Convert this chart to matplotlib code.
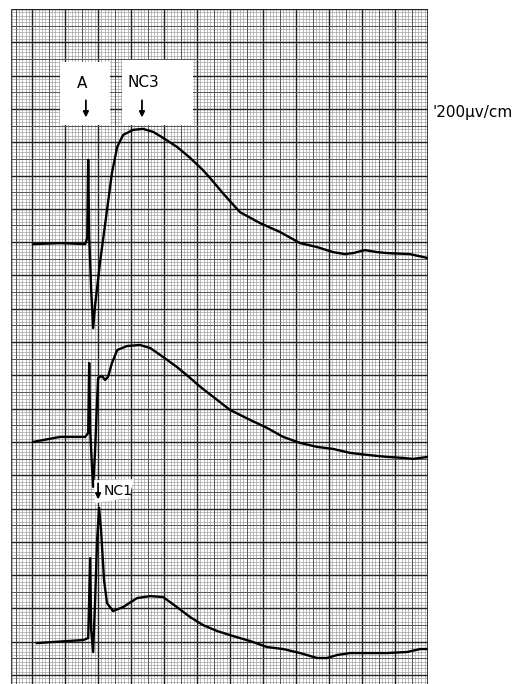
import numpy as np
import matplotlib.pyplot as plt
from matplotlib.patches import Rectangle, Polygon

# chart-paper units: mm (1 small square)
# top trace
x1 = [0.3, 8.5, 16.1, 16.7, 17.0, 17.3, 17.9, 18.5, 19.1, 20.6, 22.7, 24.2, 25.8, 27.6, 30.6,
      33.6, 36.7, 39.7, 43.9, 47.9, 51.8, 53.9, 57.9, 63.0, 69.1, 75.2, 81.2, 86.4, 91.2,
      94.8, 97.3, 100.9, 104.5, 107.6, 114.5, 120.0]
y1 = [129.4, 129.7, 129.4, 131.2, 154.7, 131.8, 115.6, 104.2, 111.1, 124.0, 139.6, 150.8, 158.6,
      162.2, 163.7, 164.0, 163.1, 161.3, 158.6, 155.3, 151.6, 149.3, 144.6, 139.0, 135.7, 133.0,
      129.7, 128.5, 127.0, 126.4, 126.7, 127.6, 127.0, 126.7, 126.4, 125.2]

# middle trace
x2 = [0.3, 8.5, 16.1, 17.0, 17.3, 17.6, 18.2, 18.5, 19.1, 19.7, 20.0, 21.2, 22.1, 23.0, 24.2,
      25.8, 28.8, 32.7, 35.8, 39.7, 43.9, 47.9, 50.9, 54.8, 60.0, 66.1, 71.2, 76.1, 81.2, 86.4,
      91.2, 96.4, 101.5, 107.6, 112.4, 115.5, 120.0]
y2 = [70.0, 71.5, 71.5, 72.7, 93.7, 73.6, 61.6, 56.5, 67.6, 82.6, 89.2, 89.8, 88.6, 89.5, 93.7,
      97.6, 98.8, 99.1, 98.2, 95.5, 92.5, 89.2, 86.6, 83.6, 79.6, 76.6, 74.2, 71.5, 69.7, 68.5,
      67.9, 66.7, 66.1, 65.5, 65.2, 64.9, 65.5]

# bottom trace
x3 = [1.5, 15.5, 17.0, 17.6, 17.9, 18.5, 19.1, 19.7, 20.3, 20.9, 21.8, 22.7, 24.5, 27.6, 31.8,
      35.8, 39.7, 43.9, 47.9, 51.8, 56.1, 60.9, 66.1, 71.2, 76.1, 81.2, 86.4, 89.4, 92.4, 96.4,
      101.5, 107.6, 113.6, 117.6, 120.0]
y3 = [9.6, 10.5, 11.1, 35.1, 13.5, 6.9, 22.5, 40.5, 50.2, 43.5, 28.5, 21.6, 19.2, 20.4, 23.1,
      23.7, 23.4, 20.4, 17.4, 15.0, 13.2, 11.7, 10.2, 8.4, 7.8, 6.6, 5.1, 5.1, 6.0, 6.6,
      6.6, 6.6, 6.9, 7.8, 7.8]

fig = plt.figure(figsize=(5.13, 6.84), dpi=100)
W, H = 513, 684
ax = fig.add_axes([11 / W, 0, (428 - 11) / W, (684 - 9) / H])
ax.set_xlim(-6.4, 120)
ax.set_ylim(-2.7, 200)
ax.axis('off')

# graph paper
for v in np.arange(-6, 121, 1):
    if v % 10 == 0:
        ax.axvline(v, color='#222222', lw=1.0, zorder=1)
    elif v % 5 == 0:
        ax.axvline(v, color='#555555', lw=0.7, zorder=1)
    else:
        ax.axvline(v, color='#9a9a9a', lw=0.45, zorder=0)
for h in np.arange(-2, 201, 1):
    if h % 10 == 0:
        ax.axhline(h, color='#222222', lw=1.0, zorder=1)
    elif h % 5 == 0:
        ax.axhline(h, color='#555555', lw=0.7, zorder=1)
    else:
        ax.axhline(h, color='#9a9a9a', lw=0.45, zorder=0)
ax.axvline(-6.4, color='#444444', lw=0.8)
ax.axvline(120, color='#222222', lw=1.2)

# traces
for xs, ys in [(x1, y1), (x2, y2), (x3, y3)]:
    ax.plot(xs, ys, color='black', lw=1.7, solid_joinstyle='round', zorder=5)

# pasted label boxes
ax.add_patch(Rectangle((8.5, 165.2), 15.1, 18.9, facecolor='white', edgecolor='none', zorder=6))
ax.add_patch(Rectangle((27.3, 165.2), 21.5, 19.5, facecolor='white', edgecolor='none', zorder=6))
ax.add_patch(Polygon([(18.8, 58.5), (30.9, 58.8), (29.4, 53.3), (19.1, 51.6)],
                     facecolor='white', edgecolor='none', zorder=6))

ax.text(15.0, 177.6, 'A', fontsize=11, ha='center', va='center', zorder=7)
ax.text(33.8, 177.8, 'NC3', fontsize=11, ha='center', va='center', zorder=7)
ax.text(26.0, 55.2, 'NC1', fontsize=10, ha='center', va='center', zorder=7)

arrow = dict(arrowstyle='-|>', color='black', lw=1.3, mutation_scale=8)
ax.annotate('', xy=(16.3, 166.6), xytext=(16.3, 173.4), arrowprops=arrow, zorder=7)
ax.annotate('', xy=(33.3, 166.6), xytext=(33.3, 173.4), arrowprops=arrow, zorder=7)
ax.annotate('', xy=(20.0, 51.9), xytext=(20.0, 58.4), arrowprops=arrow, zorder=7)

fig.text(432 / W, 1 - 113 / H, "'200\u03bcv/cm", fontsize=11, ha='left', va='center')

fig.savefig('out.png', dpi=100)
